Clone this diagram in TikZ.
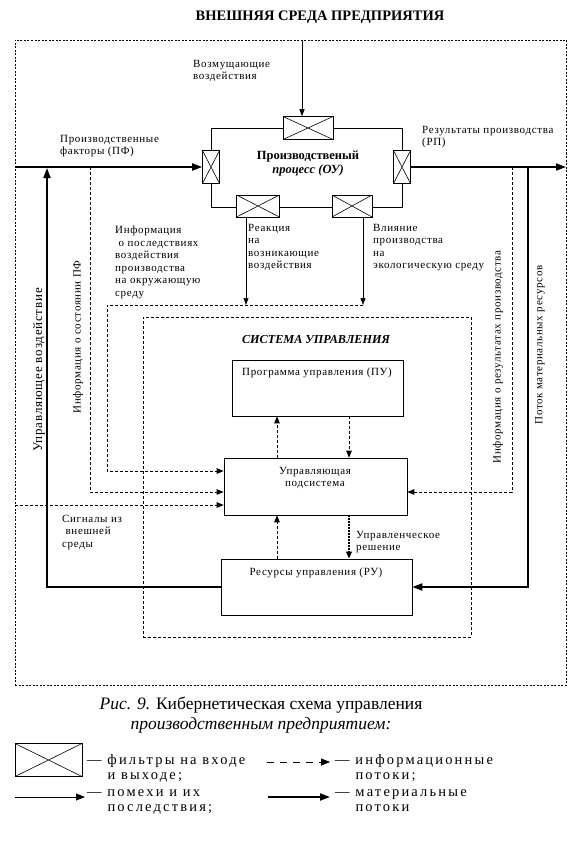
\documentclass[tikz,border=0pt]{standalone}
\usepackage{fontspec}
\setmainfont{Liberation Serif}
\newfontfamily\labfont{Liberation Serif}[LetterSpace=6]
\newfontfamily\legfont{Liberation Serif}[LetterSpace=15]
\usetikzlibrary{arrows.meta}
\begin{document}
\begin{tikzpicture}[x=1pt,y=-1pt,
  thinl/.style={line width=0.6pt},
  arr/.style={-{Triangle[length=7pt,width=5pt]}},
  mat/.style={line width=1.8pt,-{Triangle[length=10pt,width=7pt]}},
  info/.style={line width=0.7pt,dash pattern=on 3pt off 2pt,-{Triangle[length=7pt,width=5.5pt]}},
  filt/.style={draw,line width=0.6pt,fill=white,inner sep=0pt,
    path picture={\draw[line width=0.6pt] (path picture bounding box.north west) -- (path picture bounding box.south east)
      (path picture bounding box.south west) -- (path picture bounding box.north east);}},
  box/.style={draw,line width=0.6pt,inner sep=0pt},
  lab/.style={font=\labfont\fontsize{11}{12.5}\selectfont,align=left,inner sep=0pt},
  leg/.style={font=\legfont\fontsize{14.5}{15.5}\selectfont,align=left,inner sep=0pt},
  envframe/.style={draw,line width=0.8pt,dash pattern=on 2pt off 1.5pt,inner sep=0pt},
  sysframe/.style={draw,line width=0.7pt,dash pattern=on 3pt off 2pt,inner sep=0pt}
]
\useasboundingbox (0,0) rectangle (587,848);

% frames
\node[envframe,minimum width=551pt,minimum height=645pt] (env) at (290.5,362.5) {};
\node[font=\bfseries\fontsize{14.5}{16}\selectfont] (title) at (320,17) {ВНЕШНЯЯ СРЕДА ПРЕДПРИЯТИЯ};
\node[sysframe,minimum width=328pt,minimum height=320pt] (sys) at (307,477) {};
\node[font=\bfseries\itshape\fontsize{12.2}{14}\selectfont] (lsys) at (316,340) {СИСТЕМА УПРАВЛЕНИЯ};

% process
\node[box,minimum width=191pt,minimum height=79pt] (proc) at (306.5,167.5) {};
\node[filt,minimum width=50pt,minimum height=23pt] (ftop) at (308,128) {};
\node[filt,minimum width=17pt,minimum height=33pt] (fl) at (211,167) {};
\node[filt,minimum width=17pt,minimum height=33pt] (fr) at (402,167) {};
\node[filt,minimum width=43pt,minimum height=22pt] (fbl) at (258,206) {};
\node[filt,minimum width=40pt,minimum height=22pt] (fbr) at (352,206) {};
\node[font=\bfseries\fontsize{12.5}{14}\selectfont,align=center] (proct) at (308,164) {Производственый\\\textit{процесс (ОУ)}};

% boxes
\node[box,minimum width=171pt,minimum height=56pt] (pu) at (317.5,388) {};
\node[box,minimum width=183pt,minimum height=57pt] (upr) at (315.5,486.5) {};
\node[box,minimum width=191pt,minimum height=56pt] (ru) at (316.5,587) {};
\node[lab] (tpu) at (317,373) {Программа управления (ПУ)};
\node[lab,align=center] (tupr) at (315,478) {Управляющая\\подсистема};
\node[lab] (tru) at (316,573) {Ресурсы управления (РУ)};

% coordinates
\coordinate (vz) at (302,40);
\coordinate (inL) at (15,167);
\coordinate (outR) at (566,167);
\coordinate (ra) at (246,305);
\coordinate (rb) at (363,305);
\coordinate (c2) at (107,305);
\coordinate (c3) at (107,471);
\coordinate (ipf) at (90,167);
\coordinate (ipf2) at (90,492);
\coordinate (sig) at (15,505);
\coordinate (uv) at (47,168);
\coordinate (uvb) at (47,587);
\coordinate (mr) at (528,167);
\coordinate (mrb) at (528,587);
\coordinate (ir) at (512,167);
\coordinate (irb) at (512,492);
\coordinate (xa) at (277,0);
\coordinate (xb) at (349,0);

% connectors
\draw[thinl,arr] (vz) -- (vz |- ftop.north);
\draw[mat] (inL) -- (fl.west);
\draw[mat] (fr.east) -- (outR);
\draw[thinl,arr] (fbl.south -| ra) -- (ra);
\draw[thinl,arr] (fbr.south -| rb) -- (rb);
\draw[info] (rb) -- (c2) -- (c3) -- (upr.west |- c3);
\draw[info] (ipf) -- (ipf2) -- (upr.west |- ipf2);
\draw[info] (sig) -- (upr.west |- sig);
\draw[mat] (ru.west) -- (uvb) -- (uv);
\draw[mat] (mr) -- (mrb) -- (ru.east);
\draw[info] (ir) -- (irb) -- (upr.east |- irb);
\draw[info] (upr.north -| xa) -- (pu.south -| xa);
\draw[info] (pu.south -| xb) -- (upr.north -| xb);
\draw[info] (ru.north -| xa) -- (upr.south -| xa);
\draw[info,line width=2pt,dash pattern=on 2pt off 1pt] (upr.south -| xb) -- (ru.north -| xb);

% labels
\node[lab,anchor=north west] (lvz) at (193,60) {Возмущающие\\воздействия};
\node[lab,anchor=north west] (lpf) at (60,135) {Производственные\\факторы (ПФ)};
\node[lab,anchor=north west] (lrp) at (422,126) {Результаты производства\\(РП)};
\node[lab,anchor=north west] (lre) at (248,224) {Реакция\\на\\возникающие\\воздействия};
\node[lab,anchor=north west] (lvl) at (373,224) {Влияние\\производства\\на\\экологическую среду};
\node[lab,anchor=north west] (lic) at (115,226) {Информация\\\ о последствиях\\воздействия\\производства\\на окружающую\\среду};
\node[lab,rotate=90] (lipf) at (78,337) {Информация о состоянии ПФ};
\node[lab,rotate=90,font=\labfont\fontsize{13}{15}\selectfont] (luv) at (39,370) {Управляющее воздействие};
\node[lab,rotate=90] (lir) at (498,357) {Информация о результатах производства};
\node[lab,rotate=90] (lmr) at (540,345) {Поток материальных ресурсов};
\node[lab,anchor=north west] (lsig) at (62,515) {Сигналы из\\\ внешней\\среды};
\node[lab,anchor=north west] (lud) at (356,531) {Управленческое\\решение};

% caption
\node[font=\fontsize{17.5}{19.5}\selectfont,align=center] (cap) at (261,715) {\textit{Рис. 9.} Кибернетическая схема управления\\\textit{производственным предприятием:}};

% legend
\node[filt,minimum width=67pt,minimum height=33pt] (lgf) at (48.5,760) {};
\coordinate (lg1a) at (267,762);
\coordinate (lg1b) at (330,762);
\coordinate (lg2a) at (15,797);
\coordinate (lg2b) at (85,797);
\coordinate (lg3a) at (268,797);
\coordinate (lg3b) at (330,797);
\draw[line width=0.8pt,dash pattern=on 7pt off 6pt,-{Triangle[length=9pt,width=7pt]}] (lg1a) -- (lg1b);
\draw[line width=0.8pt,-{Triangle[length=9pt,width=7pt]}] (lg2a) -- (lg2b);
\draw[line width=1.8pt,-{Triangle[length=10pt,width=7pt]}] (lg3a) -- (lg3b);
\node[leg,anchor=north west] (lgt1) at (87,754) {— фильтры на входе\\\phantom{— }и выходе;};
\node[leg,anchor=north west] (lgt2) at (335,754) {— информационные\\\phantom{— }потоки;};
\node[leg,anchor=north west] (lgt3) at (87,789) {— помехи и их\\\phantom{— }последствия;};
\node[leg,anchor=north west] (lgt4) at (335,789) {— материальные\\\phantom{— }потоки};
\end{tikzpicture}
\end{document}
